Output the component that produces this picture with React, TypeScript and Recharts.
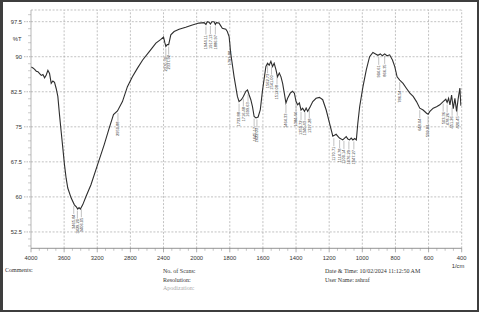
import React from 'react';
import { ComposedChart, Line, Scatter, XAxis, YAxis, ReferenceLine } from 'recharts';

// Spectrum (wavenumber in 1/cm, %T)
const wavenumbers = [
  3998, 3976, 3956, 3936, 3916, 3896, 3876, 3856, 3836, 3816, 3796, 3776, 3756, 3736, 3716, 3696,
  3676, 3656, 3636, 3616, 3596, 3576, 3556, 3516, 3476, 3450, 3436, 3420, 3404, 3376, 3336, 3276,
  3196, 3116, 3056, 3004, 2956, 2896, 2836, 2776, 2716, 2652, 2572, 2492, 2432, 2400, 2384, 2372,
  2356, 2338, 2312, 2272, 2212, 2132, 2052, 1986, 1955, 1944, 1936, 1925, 1917, 1908, 1895, 1887,
  1881, 1865, 1845, 1824, 1815, 1804, 1794, 1774, 1754, 1744, 1730, 1718, 1703, 1693, 1683, 1673,
  1663, 1653, 1642, 1629, 1616, 1602, 1582, 1572, 1562, 1552, 1542, 1532, 1521, 1512, 1501, 1491,
  1481, 1471, 1461, 1451, 1435, 1421, 1410, 1400, 1390, 1380, 1370, 1360, 1349, 1339, 1330, 1319,
  1299, 1279, 1259, 1239, 1218, 1198, 1178, 1158, 1138, 1118, 1097, 1087, 1077, 1067, 1057, 1046,
  1036, 1027, 1016, 996, 976, 956, 936, 920, 906, 891, 879, 865, 851, 835, 818, 804,
  790, 774, 754, 733, 713, 693, 673, 653, 633, 612, 603, 592, 572, 552, 532, 512,
  496, 488, 479, 471, 461, 451, 441, 431, 421, 411, 405,
];
const transmittance = [
  87.8, 87.6, 87.3, 86.9, 86.8, 86.4, 86.0, 86.2, 85.5, 86.1, 87.1, 86.4, 84.3, 84.8, 84.5, 83.2,
  81.5, 77.6, 74.0, 70.5, 66.9, 64.0, 61.9, 59.8, 58.3, 57.8, 57.4, 57.7, 57.4, 58.3, 60.1, 62.6,
  66.9, 71.2, 74.7, 77.6, 78.4, 80.4, 83.6, 85.7, 87.5, 89.3, 91.1, 92.9, 93.7, 94.2, 93.0, 92.2,
  92.6, 92.6, 94.7, 95.4, 95.9, 96.3, 96.8, 97.2, 97.3, 96.9, 97.5, 97.4, 97.0, 97.5, 97.5, 96.9,
  97.3, 97.2, 96.1, 95.9, 95.4, 94.3, 90.7, 85.7, 81.5, 80.4, 80.8, 81.5, 82.6, 82.9, 81.8, 80.8,
  79.3, 77.2, 76.9, 77.1, 78.6, 82.9, 87.9, 88.6, 88.2, 89.0, 87.9, 88.6, 87.2, 85.7, 86.5, 85.7,
  84.3, 82.2, 80.1, 81.1, 82.2, 82.6, 82.2, 80.4, 79.7, 80.1, 78.6, 79.0, 78.3, 79.0, 78.3, 79.0,
  80.4, 81.1, 81.3, 80.8, 78.6, 75.8, 73.0, 73.4, 72.6, 72.2, 72.9, 72.4, 72.2, 72.6, 72.2, 72.5,
  72.2, 75.8, 79.3, 83.6, 87.2, 90.0, 90.9, 90.6, 90.3, 90.6, 90.2, 90.6, 90.2, 90.4, 89.3, 87.9,
  85.7, 85.0, 84.3, 83.2, 82.2, 81.5, 80.4, 79.0, 78.6, 77.9, 77.7, 78.3, 79.0, 79.3, 79.7, 80.4,
  80.9, 80.2, 81.1, 79.7, 81.8, 78.9, 81.1, 78.3, 81.1, 83.3, 79.5,
];

// Peak annotations
const peakLabels = [
  '3465.84', '3429.20', '3406.05', '2950.88', '2370.30', '2337.92', '1944.11', '1917.13', '1886.97',
  '1793.88', '1733.88', '1716.48', '1699.63', '1645.17', '1622.03', '1562.73', '1541.00', '1512.08',
  '1464.33', '1384.44', '1359.72', '1340.43', '1317.28', '1170.71', '1114.78', '1100.14', '1076.29',
  '1047.27', '904.61', '866.35', '786.54', '648.04', '599.83', '503.36', '478.26', '451.26', '420.45',
];
const peakWavenumbers = [
  3484, 3440, 3392, 2950, 2372, 2338, 1944, 1917, 1887,
  1800, 1744, 1718, 1690, 1653, 1636, 1572, 1548, 1515,
  1461, 1400, 1370, 1346, 1320, 1172, 1137, 1111, 1081,
  1051, 901, 865, 774, 653, 603, 512, 488, 458, 427,
];
const peakTransmittance = [
  58.5, 57.5, 57.8, 78.4, 92.2, 92.6, 96.9, 97.0, 96.9,
  93.5, 80.4, 81.5, 82.5, 77.2, 77.0, 88.6, 88.3, 86.2,
  80.1, 80.4, 78.6, 78.5, 79.0, 73.0, 72.6, 72.4, 72.3,
  72.3, 90.4, 90.6, 85.0, 79.0, 77.7, 80.4, 80.2, 79.5, 79.5,
];

const xTickLabels = [4000, 3600, 3200, 2800, 2400, 2000, 1800, 1600, 1400, 1200, 1000, 800, 600, 400];
const yTickLabels = [52.5, 60, 67.5, 75, 82.5, 90, 97.5];

// Split abscissa: 400/div above 2000, 200/div below
function toU(w: number) {
  return w >= 2000 ? (4000 - w) / 400 : 5 + (2000 - w) / 200;
}

const majorU = xTickLabels.map(toU);
const xTicks: number[] = [];
for (let i = 0; i <= 52; i++) xTicks.push(i / 4);
const yTicks: number[] = [];
for (let i = 0; i <= 33; i++) yTicks.push(49.5 + 1.5 * i);
yTicks.push(93.75);

const AXIS_FONT = '"Liberation Sans", Arial, sans-serif';
const SERIF = '"Liberation Serif", "Times New Roman", serif';

const XTick = (props: any) => {
  const { x, y, payload } = props;
  const v = payload.value as number;
  const idx = majorU.findIndex((m) => Math.abs(m - v) < 1e-6);
  if (idx >= 0) {
    return (
      <g>
        <line x1={x} y1={y} x2={x} y2={y + 4} stroke="#777" strokeWidth={0.6} />
        <text x={x} y={y + 11.3} textAnchor="middle" fontSize={5.8} fill="#333" fontFamily={AXIS_FONT}>
          {xTickLabels[idx]}
        </text>
      </g>
    );
  }
  return <line x1={x} y1={y} x2={x} y2={y + 2.5} stroke="#888" strokeWidth={0.5} />;
};

const YTick = (props: any) => {
  const { x, y, payload } = props;
  const v = payload.value as number;
  if (v === 93.75) {
    return (
      <text x={x - 9.5} y={y + 2} textAnchor="end" fontSize={5.8} fill="#333" fontFamily={AXIS_FONT}>
        %T
      </text>
    );
  }
  if (yTickLabels.includes(v)) {
    return (
      <g>
        <line x1={x - 7} y1={y} x2={x} y2={y} stroke="#888" strokeWidth={0.6} strokeDasharray="1.5 1" />
        <text x={x - 9} y={y + 2} textAnchor="end" fontSize={5.8} fill="#333" fontFamily={AXIS_FONT}>
          {v}
        </text>
      </g>
    );
  }
  return <line x1={x - 3} y1={y} x2={x} y2={y} stroke="#999" strokeWidth={0.5} />;
};

const PeakMark = (props: any) => {
  const { cx, cy, payload } = props;
  if (cx == null || cy == null) return null;
  const y0 = cy + 2;
  const y1 = cy + 10;
  return (
    <g>
      <line x1={cx} y1={y0} x2={cx} y2={y1} stroke="#777" strokeWidth={0.45} />
      <text
        transform={`translate(${cx + 1.4},${y1 + 0.5}) rotate(-90)`}
        textAnchor="end"
        fontSize={4}
        fill="#333"
        fontFamily={AXIS_FONT}
      >
        {payload.label}
      </text>
    </g>
  );
};

export default function App() {
  const data = wavenumbers.map((w, i) => ({ u: toU(w), t: transmittance[i] }));
  const peaks = peakWavenumbers.map((w, i) => ({ u: toU(w), t: peakTransmittance[i], label: peakLabels[i] }));
  const gridStyle = { stroke: '#999', strokeWidth: 0.6, strokeDasharray: '2 1.6' };
  return (
    <div style={{ position: 'absolute', left: 0, top: 0, width: 480, height: 313, background: '#fff', overflow: 'hidden' }}>
      <div
        style={{
          position: 'absolute', left: 0, top: 0, width: 479, height: 312, boxSizing: 'border-box',
          borderStyle: 'solid', borderColor: '#3e3e3e', borderWidth: '2px 2px 2px 3px',
        }}
      />
      <div style={{ position: 'absolute', left: 0, top: 0 }}>
        <ComposedChart width={480} height={313} data={data} margin={{ top: 10, right: 18.3, bottom: 0, left: 0 }}>
          {majorU.slice(1).map((u) => (
            <ReferenceLine key={'v' + u} x={u} {...gridStyle} />
          ))}
          {yTickLabels.concat([100]).map((v) => (
            <ReferenceLine key={'h' + v} y={v} {...gridStyle} />
          ))}
          <XAxis
            dataKey="u"
            type="number"
            domain={[0, 13]}
            ticks={xTicks}
            interval={0}
            tickSize={0}
            tickMargin={0}
            height={64.7}
            tickLine={false}
            axisLine={{ stroke: '#777', strokeWidth: 0.8 }}
            tick={XTick}
            allowDataOverflow
          />
          <YAxis
            type="number"
            domain={[49, 100]}
            ticks={yTicks}
            interval={0}
            tickSize={0}
            tickMargin={0}
            width={31}
            tickLine={false}
            axisLine={{ stroke: '#999', strokeWidth: 0.7 }}
            tick={YTick}
            allowDataOverflow
          />
          <Line dataKey="t" type="linear" stroke="#2e2e2e" strokeWidth={1.1} dot={false} isAnimationActive={false} />
          <Scatter data={peaks} dataKey="t" shape={PeakMark} isAnimationActive={false} />
        </ComposedChart>
      </div>
      <svg width={480} height={313} style={{ position: 'absolute', left: 0, top: 0, pointerEvents: 'none' }}>
        <text x={458} y={268} textAnchor="middle" fontSize={5.8} fill="#333" fontFamily={AXIS_FONT}>1/cm</text>
        <g fontFamily={SERIF} fontSize={6} fill="#333">
          <text x={5} y={272}>Comments:</text>
          <text x={163} y={273}>No. of Scans:</text>
          <text x={163} y={281.5}>Resolution:</text>
          <text x={163} y={290} fill="#aaa">Apodization:</text>
          <text x={325} y={273}>Date &amp; Time: 10/02/2024 11:12:50 AM</text>
          <text x={325} y={282}>User Name:</text>
          <text x={355} y={282}>ashraf</text>
        </g>
      </svg>
    </div>
  );
}
